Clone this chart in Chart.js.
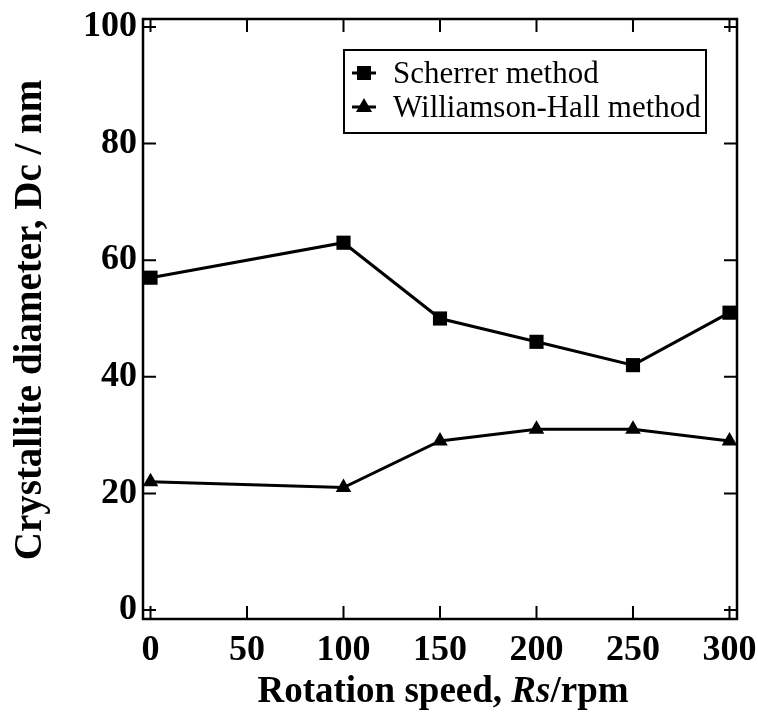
<!DOCTYPE html>
<html>
<head>
<meta charset="utf-8">
<script src="https://cdn.jsdelivr.net/npm/chart.js@4/dist/chart.umd.min.js"></script>
<style>
  html, body { margin: 0; padding: 0; background: #fff; }
  #wrap { width: 758px; height: 727px; }
</style>
</head>
<body>
<div id="wrap"><canvas id="c" width="758" height="727"></canvas></div>
<script>
// ---- data ----
const rotationSpeed = [0, 100, 150, 200, 250, 300];
const scherrer = [57, 63, 50, 46, 42, 51];
const williamsonHall = [22, 21, 29, 31, 31, 29];
const xTicks = [0, 50, 100, 150, 200, 250, 300];
const yTicks = [0, 20, 40, 60, 80, 100];
const seriesLabels = ['Scherrer method', 'Williamson-Hall method'];
const yTitle = 'Crystallite diameter, Dc / nm';
const xTitleParts = [['Rotation speed, ', 'bold'], ['Rs', 'italic bold'], ['/rpm', 'bold']];

const SERIF = '"Liberation Serif", "Times New Roman", serif';

const framePlugin = {
  id: 'frame',
  afterDatasetsDraw(chart) {
    const ctx = chart.ctx;
    const a = chart.chartArea;
    const xs = chart.scales.x, ys = chart.scales.y;
    ctx.save();
    ctx.strokeStyle = '#000';
    ctx.lineWidth = 2.5;
    ctx.strokeRect(a.left, a.top, a.right - a.left, a.bottom - a.top);
    ctx.lineWidth = 2;
    const tl = 13;
    ctx.beginPath();
    xTicks.forEach(v => {
      const px = xs.getPixelForValue(v);
      ctx.moveTo(px, a.bottom); ctx.lineTo(px, a.bottom - tl);
      ctx.moveTo(px, a.top); ctx.lineTo(px, a.top + tl);
    });
    yTicks.forEach(v => {
      const py = ys.getPixelForValue(v);
      ctx.moveTo(a.left, py); ctx.lineTo(a.left + tl, py);
      ctx.moveTo(a.right, py); ctx.lineTo(a.right - tl, py);
    });
    ctx.stroke();
    ctx.restore();
  },
  afterDraw(chart) {
    const ctx = chart.ctx;
    ctx.save();
    ctx.fillStyle = '#000';
    // y title
    ctx.translate(31, 320);
    ctx.rotate(-Math.PI / 2);
    ctx.font = 'bold 39px ' + SERIF;
    ctx.textAlign = 'center';
    ctx.textBaseline = 'middle';
    ctx.fillText(yTitle, 0, 0);
    ctx.restore();

    // x title
    ctx.save();
    ctx.fillStyle = '#000';
    ctx.textBaseline = 'alphabetic';
    ctx.textAlign = 'left';
    let total = 0;
    const widths = xTitleParts.map(([t, s]) => {
      ctx.font = s + ' 37px ' + SERIF;
      const w = ctx.measureText(t).width;
      total += w;
      return w;
    });
    let x = 443 - total / 2;
    xTitleParts.forEach(([t, s], i) => {
      ctx.font = s + ' 37px ' + SERIF;
      ctx.fillText(t, x, 702);
      x += widths[i];
    });
    ctx.restore();

    // legend
    ctx.save();
    ctx.strokeStyle = '#000';
    ctx.fillStyle = '#000';
    ctx.lineWidth = 2;
    ctx.strokeRect(344, 50, 362, 83);
    ctx.fillRect(364 - 7, 73 - 7, 14, 14);
    ctx.lineWidth = 3;
    ctx.beginPath(); ctx.moveTo(352, 73); ctx.lineTo(376, 73); ctx.stroke();
    ctx.beginPath();
    ctx.moveTo(364, 98); ctx.lineTo(372, 112); ctx.lineTo(356, 112); ctx.closePath();
    ctx.fill();
    ctx.beginPath(); ctx.moveTo(352, 107); ctx.lineTo(376, 107); ctx.stroke();
    ctx.font = '31px ' + SERIF;
    ctx.textBaseline = 'alphabetic';
    ctx.fillText(seriesLabels[0], 393, 83);
    ctx.fillText(seriesLabels[1], 393, 117);
    ctx.restore();
  }
};

new Chart(document.getElementById('c'), {
  type: 'line',
  data: {
    datasets: [
      {
        label: seriesLabels[0],
        data: rotationSpeed.map((x, i) => ({ x, y: scherrer[i] })),
        borderColor: '#000', backgroundColor: '#000',
        borderWidth: 3, pointStyle: 'rect', pointRadius: 10, pointBorderWidth: 0,
        pointBackgroundColor: '#000', clip: false, tension: 0
      },
      {
        label: seriesLabels[1],
        data: rotationSpeed.map((x, i) => ({ x, y: williamsonHall[i] })),
        borderColor: '#000', backgroundColor: '#000',
        borderWidth: 3, pointStyle: 'triangle', pointRadius: 9, pointBorderWidth: 0,
        pointBackgroundColor: '#000', clip: false, tension: 0
      }
    ]
  },
  options: {
    responsive: false,
    animation: false,
    events: [],
    layout: { padding: { top: 19, right: 21, left: 0, bottom: 0 } },
    plugins: { legend: { display: false }, tooltip: { enabled: false } },
    scales: {
      x: {
        type: 'linear', min: -3.89, max: 303.89,
        afterBuildTicks: s => { s.ticks = xTicks.map(v => ({ value: v })); },
        afterFit: s => { s.height = 108; s.paddingLeft = 0; s.paddingRight = 0; },
        grid: { display: false, drawTicks: false },
        border: { display: false },
        ticks: { color: '#000', font: { family: SERIF, size: 36, weight: 'bold' }, padding: 10, autoSkip: false, maxRotation: 0 }
      },
      y: {
        type: 'linear', min: -1.54, max: 101.37,
        afterBuildTicks: s => { s.ticks = yTicks.map(v => ({ value: v })); },
        afterFit: s => { s.width = 143; s.paddingTop = 0; s.paddingBottom = 0; },
        grid: { display: false, drawTicks: false },
        border: { display: false },
        ticks: { color: '#000', font: { family: SERIF, size: 36, weight: 'bold' }, padding: 6, autoSkip: false }
      }
    }
  },
  plugins: [framePlugin]
});
</script>
</body>
</html>
